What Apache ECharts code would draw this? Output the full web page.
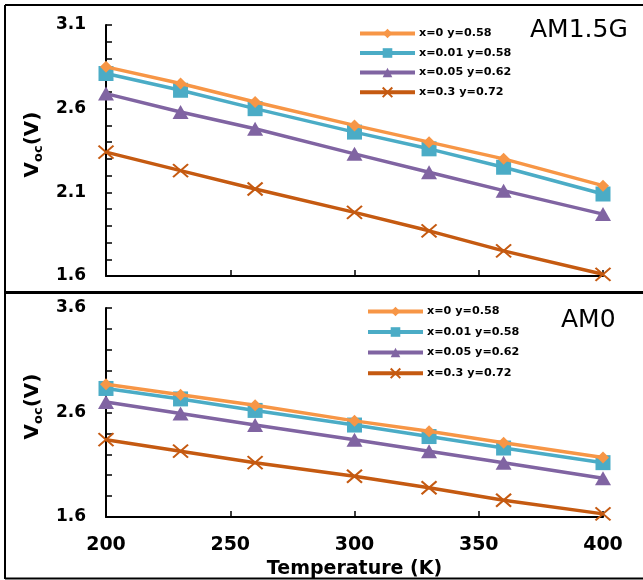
<!DOCTYPE html>
<html>
<head>
<meta charset="utf-8">
<script src="https://cdn.jsdelivr.net/npm/echarts@6/dist/echarts.min.js"></script>
<style>
html,body{margin:0;padding:0;background:#fff;}
#chart{width:643px;height:580px;}
</style>
</head>
<body>
<div id="chart"></div>
<script>
// ---- data ----
const temps = [200, 230, 260, 300, 330, 360, 400];
const seriesNames = ['x=0 y=0.58', 'x=0.01 y=0.58', 'x=0.05 y=0.62', 'x=0.3 y=0.72'];
// AM1.5G panel
const am15_s1 = [2.85, 2.75, 2.64, 2.50, 2.40, 2.30, 2.14];
const am15_s2 = [2.81, 2.71, 2.60, 2.46, 2.36, 2.25, 2.09];
const am15_s3 = [2.69, 2.58, 2.48, 2.33, 2.22, 2.11, 1.97];
const am15_s4 = [2.34, 2.23, 2.12, 1.98, 1.87, 1.75, 1.61];
// AM0 panel
const am0_s1 = [2.87, 2.77, 2.67, 2.52, 2.42, 2.31, 2.17];
const am0_s2 = [2.83, 2.73, 2.62, 2.48, 2.37, 2.26, 2.12];
const am0_s3 = [2.70, 2.59, 2.48, 2.34, 2.23, 2.12, 1.97];
const am0_s4 = [2.34, 2.23, 2.12, 1.99, 1.88, 1.76, 1.63];
const panelLabels = ['AM1.5G', 'AM0'];
const xTicks = [200, 250, 300, 350, 400];

// ---- styles ----
const colors = ['#F79646', '#4BACC6', '#8064A2', '#C55A11'];
const symbols = ['diamond', 'rect', 'triangle', 'path://M0,0L10,10M10,0L0,10'];
const symbolSizes = [[12, 12], [15, 15], [16, 14], [15, 13]];
const boldFont = '"DejaVu Sans", sans-serif';

const chart = echarts.init(document.getElementById('chart'));

function mkSeries(dataArr, gridIdx) {
  return dataArr.map((vals, i) => ({
    name: seriesNames[i],
    type: 'line',
    xAxisIndex: gridIdx,
    yAxisIndex: gridIdx,
    data: temps.map((t, k) => [t, vals[k]]),
    symbol: symbols[i],
    symbolSize: symbolSizes[i],
    showAllSymbol: true,
    z: 10 - i,
    lineStyle: { color: colors[i], width: 3.5 },
    itemStyle: { color: colors[i], borderColor: colors[i], borderWidth: i === 3 ? 2 : 0 },
    emphasis: { disabled: true },
    animation: false
  }));
}

function yAxis(gridIdx, min, max, interval) {
  return {
    type: 'value',
    gridIndex: gridIdx,
    min: min, max: max, interval: interval,
    name: '{v|V}{s|oc}{v|(V)}',
    nameLocation: 'middle',
    nameRotate: 90,
    nameGap: 58,
    nameTextStyle: {
      padding: [0, 0, 0, 12],
      rich: {
        v: { fontFamily: boldFont, fontWeight: 'bold', fontSize: 20, color: '#000' },
        s: { fontFamily: boldFont, fontWeight: 'bold', fontSize: 13, color: '#000', padding: [12, 0, 0, 0] }
      }
    },
    axisLine: { show: true, lineStyle: { color: '#000', width: 2 } },
    axisTick: { show: true, inside: true, length: 6, lineStyle: { color: '#000', width: 1.5 } },
    minorTick: { show: true, splitNumber: 5, length: 6, lineStyle: { color: '#000', width: 1.5 } },
    splitLine: { show: false },
    axisLabel: { margin: 20, fontFamily: boldFont, fontWeight: 'bold', fontSize: 17, color: '#000',
      formatter: v => v.toFixed(1) }
  };
}

function xAxis(gridIdx, showLabels) {
  return {
    type: 'value',
    gridIndex: gridIdx,
    min: 200, max: 400, interval: 50,
    name: showLabels ? 'Temperature (K)' : '',
    nameLocation: 'middle',
    nameGap: 43,
    nameTextStyle: { fontFamily: boldFont, fontWeight: 'bold', fontSize: 19, color: '#000' },
    axisLine: { show: true, lineStyle: { color: '#000', width: 2 } },
    axisTick: { show: true, inside: true, length: 6, lineStyle: { color: '#000', width: 1.5 } },
    splitLine: { show: false },
    axisLabel: { show: showLabels, margin: 19, fontFamily: boldFont, fontWeight: 'bold', fontSize: 19, color: '#000',
      formatter: v => (xTicks.indexOf(v) >= 0 ? String(v) : '') }
  };
}

function legend(left, top, gap) {
  return {
    data: seriesNames,
    orient: 'vertical',
    left: left, top: top,
    padding: 0,
    itemWidth: 55, itemHeight: 12, itemGap: gap,
    selectedMode: false,
    lineStyle: { width: 4 },
    textStyle: { fontFamily: boldFont, fontWeight: 'bold', fontSize: 11.2, color: '#000', padding: [0, 0, 0, -1] }
  };
}

const option = {
  backgroundColor: '#fff',
  animation: false,
  grid: [
    { left: 106, top: 25, width: 497, height: 251 },
    { left: 106, top: 308, width: 497, height: 211 }
  ],
  xAxis: [xAxis(0, false), xAxis(1, true)],
  yAxis: [yAxis(0, 1.6, 3.1, 0.5), yAxis(1, 1.6, 3.6, 1.0)],
  legend: [legend(358, 28, 8.5), legend(366, 306, 9.5)],
  series: [...mkSeries([am15_s1, am15_s2, am15_s3, am15_s4], 0),
           ...mkSeries([am0_s1, am0_s2, am0_s3, am0_s4], 1)],
  graphic: [
    { type: 'line', shape: { x1: 5, y1: 5, x2: 643, y2: 5 }, style: { stroke: '#000', lineWidth: 2 } },
    { type: 'line', shape: { x1: 5, y1: 5, x2: 5, y2: 579 }, style: { stroke: '#000', lineWidth: 2 } },
    { type: 'line', shape: { x1: 5, y1: 292.5, x2: 643, y2: 292.5 }, style: { stroke: '#000', lineWidth: 3 } },
    { type: 'line', shape: { x1: 5, y1: 578.5, x2: 643, y2: 578.5 }, style: { stroke: '#000', lineWidth: 2 } },
    { type: 'text', left: 530, top: 18, style: { text: panelLabels[0], fontFamily: '"DejaVu Sans", sans-serif', fontSize: 25, fill: '#000' } },
    { type: 'text', left: 561, top: 308, style: { text: panelLabels[1], fontFamily: '"DejaVu Sans", sans-serif', fontSize: 25, fill: '#000' } }
  ]
};
chart.setOption(option);
</script>
</body>
</html>
